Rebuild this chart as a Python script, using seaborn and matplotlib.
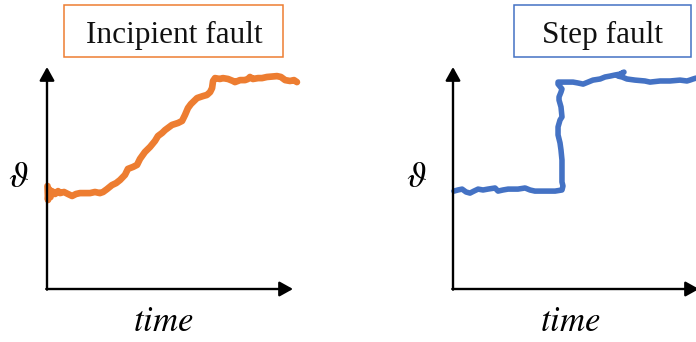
import matplotlib
matplotlib.use("Agg")
import matplotlib.pyplot as plt
from matplotlib.patches import Rectangle
import seaborn as sns
import pandas as pd

# Incipient fault: slow drift of the monitored quantity over time
incipient_time = [0.02, 0.04, 0.08, 0.14, 0.20, 0.33, 0.45, 0.53, 0.69, 0.85,
                  1.02, 1.18, 1.34, 1.55, 1.75, 1.95, 2.15, 2.28, 2.44, 2.64,
                  2.81, 2.97, 3.17, 3.29, 3.50, 3.66, 3.78, 3.98, 4.19, 4.39,
                  4.51, 4.68, 4.80, 5.08, 5.33, 5.49, 5.61, 5.73, 5.85, 6.10,
                  6.34, 6.50, 6.63, 6.71, 6.75, 6.83, 7.03, 7.15, 7.36, 7.56,
                  7.64, 7.85, 8.05, 8.17, 8.25, 8.37, 8.58, 8.74, 8.94, 9.15,
                  9.35, 9.51, 9.68, 9.88, 10.04, 10.16]
incipient_value = [4.64, 4.01, 4.50, 4.14, 4.41, 4.28, 4.41, 4.32, 4.37, 4.28,
                   4.19, 4.28, 4.32, 4.32, 4.32, 4.37, 4.32, 4.37, 4.50, 4.68,
                   4.77, 4.91, 5.14, 5.41, 5.50, 5.59, 5.86, 6.17, 6.40, 6.67,
                   6.89, 7.03, 7.16, 7.39, 7.48, 7.57, 7.84, 8.15, 8.33, 8.60,
                   8.69, 8.74, 8.87, 9.05, 9.37, 9.50, 9.46, 9.50, 9.46, 9.37,
                   9.32, 9.41, 9.41, 9.46, 9.55, 9.46, 9.50, 9.50, 9.55, 9.57,
                   9.59, 9.55, 9.41, 9.37, 9.41, 9.32]

# Step fault: abrupt jump of the monitored quantity
step_time = [0.04, 0.20, 0.37, 0.53, 0.69, 0.85, 1.02, 1.22, 1.42, 1.71,
             1.83, 2.03, 2.24, 2.40, 2.64, 2.93, 3.13, 3.33, 3.74, 4.15,
             4.43, 4.47, 4.43, 4.43, 4.43, 4.39, 4.35, 4.27, 4.27, 4.35,
             4.43, 4.39, 4.31, 4.31, 4.39, 4.43, 4.27, 4.27, 4.47, 4.68,
             4.88, 5.08, 5.29, 5.49, 5.69, 5.98, 6.18, 6.38, 6.59, 6.79,
             6.95, 6.71, 6.87, 7.07, 7.40, 7.80, 8.01, 8.42, 8.82, 9.23,
             9.51, 9.63, 9.76, 9.88]
step_value = [4.41, 4.46, 4.50, 4.37, 4.32, 4.41, 4.50, 4.46, 4.50, 4.55,
              4.41, 4.46, 4.50, 4.50, 4.50, 4.55, 4.46, 4.41, 4.41, 4.41,
              4.46, 4.64, 4.82, 5.36, 5.81, 6.26, 6.58, 6.94, 7.30, 7.61,
              7.75, 8.20, 8.51, 8.65, 8.87, 9.01, 9.23, 9.32, 9.32, 9.32,
              9.32, 9.28, 9.23, 9.32, 9.41, 9.46, 9.55, 9.59, 9.64, 9.68,
              9.77, 9.59, 9.55, 9.46, 9.41, 9.37, 9.32, 9.37, 9.37, 9.41,
              9.37, 9.41, 9.46, 9.50]

panel_titles = ["Incipient fault", "Step fault"]
panel_colors = ["#ED7D31", "#4472C4"]
panel_widths = [4.8, 4.0]

sns.set_theme(style="white")
plt.rcParams["mathtext.fontset"] = "stix"

W, H = 696, 342
fig = plt.figure(figsize=(W / 100, H / 100), dpi=100)
fig.patch.set_facecolor("white")


def fx(px):
    return px / W


def fy(py):
    return 1 - py / H


panels = [
    dict(t=incipient_time, v=incipient_value, x0=47, box=(64, 283), title_x=174,
         theta_x=18, time_x=163),
    dict(t=step_time, v=step_value, x0=453, box=(514, 691), title_x=602,
         theta_x=417, time_x=570),
]

for i, p in enumerate(panels):
    ax = fig.add_axes([fx(p["x0"]), fy(289), 246 / W, 222 / H])
    df = pd.DataFrame({"time": p["t"], "value": p["v"]})
    sns.lineplot(data=df, x="time", y="value", ax=ax, sort=False, estimator=None,
                 color=panel_colors[i], linewidth=panel_widths[i])
    for ln in ax.lines:
        ln.set_clip_on(False)
        ln.set_solid_capstyle("round")
        ln.set_solid_joinstyle("round")
    ax.set_xlim(0, 10)
    ax.set_ylim(0, 10)
    ax.set_axis_off()
    ax.patch.set_alpha(0)

    arrow = dict(arrowstyle="-|>,head_length=0.45,head_width=0.25", lw=1.7,
                 color="black", shrinkA=0, shrinkB=0, mutation_scale=18)
    ax.annotate("", xy=(1, 0), xytext=(-0.003, 0), xycoords="axes fraction",
                arrowprops=arrow, annotation_clip=False)
    ax.annotate("", xy=(0, 1), xytext=(0, -0.003), xycoords="axes fraction",
                arrowprops=arrow, annotation_clip=False)

    # boxed panel title
    bx0, bx1 = p["box"]
    fig.patches.append(Rectangle((fx(bx0), fy(57)), (bx1 - bx0) / W, 52 / H,
                                 transform=fig.transFigure, fill=False,
                                 edgecolor=panel_colors[i], linewidth=1.1))
    fig.text(fx(p["title_x"]), fy(43), panel_titles[i], ha="center", va="baseline",
             family="Liberation Serif", fontsize=22.5, color="#111111")

    fig.text(fx(p["theta_x"]), fy(177), r"$\vartheta$", ha="center", va="center",
             fontsize=26, color="black")
    fig.text(fx(p["time_x"]), fy(331), r"$time$", ha="center", va="baseline",
             fontsize=25, color="black")

fig.savefig("out.png", dpi=100)
